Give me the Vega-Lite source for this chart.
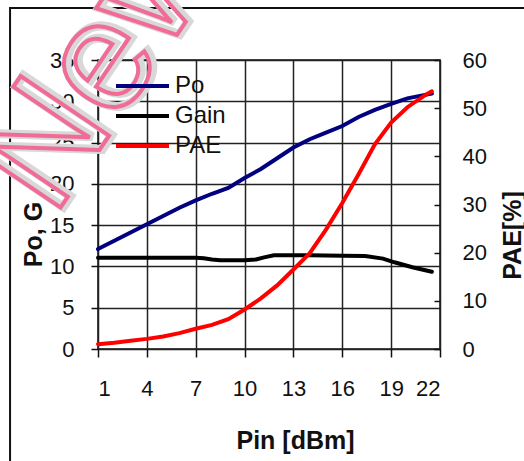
{
  "$schema": "https://vega.github.io/schema/vega-lite/v6.json",
  "width": 342,
  "height": 289,
  "autosize": {"type": "none"},
  "padding": {"left": 98, "top": 60, "right": 84, "bottom": 112},
  "background": "white",
  "config": {
    "font": "Liberation Sans",
    "view": {"stroke": "#111", "strokeWidth": 1.5},
    "axis": {
      "labelFont": "Liberation Sans",
      "titleFont": "Liberation Sans",
      "labelFontSize": 22,
      "titleFontSize": 25,
      "titleFontWeight": "bold",
      "labelColor": "#111",
      "titleColor": "#111",
      "tickColor": "#111",
      "tickWidth": 1.5,
      "gridColor": "#222",
      "gridWidth": 1.5,
      "gridOpacity": 1,
      "domain": false
    }
  },
  "datasets": {
    "curves": [
      {"Pin": 1, "series": "Po", "value": 12.1},
      {"Pin": 2, "series": "Po", "value": 13.1},
      {"Pin": 3, "series": "Po", "value": 14.1},
      {"Pin": 4, "series": "Po", "value": 15.1},
      {"Pin": 5, "series": "Po", "value": 16.1},
      {"Pin": 6, "series": "Po", "value": 17.1},
      {"Pin": 7, "series": "Po", "value": 18.0},
      {"Pin": 8, "series": "Po", "value": 18.8},
      {"Pin": 9, "series": "Po", "value": 19.5},
      {"Pin": 10, "series": "Po", "value": 20.7},
      {"Pin": 11, "series": "Po", "value": 21.8},
      {"Pin": 12, "series": "Po", "value": 23.1},
      {"Pin": 13, "series": "Po", "value": 24.4},
      {"Pin": 14, "series": "Po", "value": 25.4},
      {"Pin": 15, "series": "Po", "value": 26.2},
      {"Pin": 16, "series": "Po", "value": 27.0},
      {"Pin": 17, "series": "Po", "value": 28.1},
      {"Pin": 18, "series": "Po", "value": 28.95},
      {"Pin": 19, "series": "Po", "value": 29.7},
      {"Pin": 20, "series": "Po", "value": 30.35},
      {"Pin": 21, "series": "Po", "value": 30.75},
      {"Pin": 21.5, "series": "Po", "value": 30.95},
      {"Pin": 1, "series": "Gain", "value": 11.05},
      {"Pin": 4, "series": "Gain", "value": 11.05},
      {"Pin": 7, "series": "Gain", "value": 11.05},
      {"Pin": 7.5, "series": "Gain", "value": 11.0},
      {"Pin": 8, "series": "Gain", "value": 10.85},
      {"Pin": 8.5, "series": "Gain", "value": 10.75},
      {"Pin": 10, "series": "Gain", "value": 10.75},
      {"Pin": 10.7, "series": "Gain", "value": 10.85},
      {"Pin": 11.2, "series": "Gain", "value": 11.1},
      {"Pin": 11.8, "series": "Gain", "value": 11.35},
      {"Pin": 14, "series": "Gain", "value": 11.35},
      {"Pin": 16, "series": "Gain", "value": 11.3},
      {"Pin": 17.4, "series": "Gain", "value": 11.25},
      {"Pin": 18.5, "series": "Gain", "value": 10.95},
      {"Pin": 19.2, "series": "Gain", "value": 10.5},
      {"Pin": 20.3, "series": "Gain", "value": 9.9},
      {"Pin": 21.5, "series": "Gain", "value": 9.35},
      {"Pin": 1, "series": "PAE", "value": 1.0},
      {"Pin": 2, "series": "PAE", "value": 1.3},
      {"Pin": 3, "series": "PAE", "value": 1.7},
      {"Pin": 4, "series": "PAE", "value": 2.1},
      {"Pin": 5, "series": "PAE", "value": 2.6},
      {"Pin": 6, "series": "PAE", "value": 3.3},
      {"Pin": 7, "series": "PAE", "value": 4.2},
      {"Pin": 8, "series": "PAE", "value": 5.0},
      {"Pin": 9, "series": "PAE", "value": 6.2},
      {"Pin": 10, "series": "PAE", "value": 8.2},
      {"Pin": 11, "series": "PAE", "value": 10.5},
      {"Pin": 12, "series": "PAE", "value": 13.2},
      {"Pin": 13, "series": "PAE", "value": 16.5},
      {"Pin": 14, "series": "PAE", "value": 19.9},
      {"Pin": 15, "series": "PAE", "value": 24.8},
      {"Pin": 16, "series": "PAE", "value": 30.3},
      {"Pin": 17, "series": "PAE", "value": 36.3},
      {"Pin": 18, "series": "PAE", "value": 42.5},
      {"Pin": 19, "series": "PAE", "value": 47.0},
      {"Pin": 20, "series": "PAE", "value": 50.2},
      {"Pin": 21, "series": "PAE", "value": 52.5},
      {"Pin": 21.5, "series": "PAE", "value": 53.5}
    ],
    "frame": [{"x1": -4.4, "x2": 28, "y1": 41.3, "y2": -16}],
    "mark": [{"label": "New", "Pin": 1.2, "v": 34.6}]
  },
  "layer": [
    {
      "layer": [
        {
          "data": {"name": "frame"},
          "mark": {"type": "rect", "fill": null, "fillOpacity": 0, "stroke": "#111", "strokeWidth": 2, "clip": false},
          "encoding": {
            "x": {"field": "x1", "type": "quantitative", "scale": {"domain": [1, 22]}},
            "x2": {"field": "x2"},
            "y": {"field": "y1", "type": "quantitative", "scale": {"domain": [0, 35]}},
            "y2": {"field": "y2"}
          }
        },
        {
          "data": {"name": "curves"},
          "transform": [{"filter": "datum.series !== 'PAE'"}],
          "mark": {"type": "line", "strokeWidth": 4, "strokeCap": "round"},
          "encoding": {
            "x": {
              "field": "Pin", "type": "quantitative",
              "scale": {"domain": [1, 22], "nice": false, "zero": false},
              "axis": {
                "values": [1, 4, 7, 10, 13, 16, 19, 22],
                "grid": true, "tickSize": 8, "labelPadding": 21,
                "title": "Pin [dBm]", "titleX": 197, "titleY": 91,
                "titleAlign": "center", "titleBaseline": "middle"
              }
            },
            "y": {
              "field": "value", "type": "quantitative",
              "scale": {"domain": [0, 35], "nice": false},
              "axis": {
                "values": [0, 5, 10, 15, 20, 25, 30, 35],
                "grid": true, "tickSize": 7, "labelPadding": 17,
                "title": "Po, G", "titleAngle": 270, "titleX": -65, "titleY": 174,
                "titleAlign": "center", "titleBaseline": "middle"
              }
            },
            "color": {
              "field": "series", "type": "nominal",
              "scale": {"domain": ["Po", "Gain", "PAE"], "range": ["#000080", "#000000", "#ff0000"]},
              "legend": {
                "orient": "none", "legendX": 32.5, "legendY": 14, "title": null,
                "symbolType": "M-3,0H3", "symbolSize": 312, "symbolStrokeWidth": 4,
                "labelFontSize": 24, "labelFont": "Liberation Sans", "labelColor": "#111",
                "labelOffset": 20.5, "rowPadding": 6
              }
            },
            "order": {"field": "Pin", "type": "quantitative"}
          }
        },
        {
          "data": {"name": "mark"},
          "mark": {"type": "text", "angle": -56, "fontSize": 155, "font": "Liberation Sans", "fillOpacity": 0, "stroke": "#d8d8d8", "strokeWidth": 9, "dx": 2, "dy": 2, "align": "center", "baseline": "middle", "clip": false},
          "encoding": {
            "x": {"field": "Pin", "type": "quantitative"},
            "y": {"field": "v", "type": "quantitative"},
            "text": {"field": "label"}
          }
        },
        {
          "data": {"name": "mark"},
          "mark": {"type": "text", "angle": -56, "fontSize": 155, "font": "Liberation Sans", "fillOpacity": 0, "stroke": "#f06c96", "strokeWidth": 4, "align": "center", "baseline": "middle", "clip": false},
          "encoding": {
            "x": {"field": "Pin", "type": "quantitative"},
            "y": {"field": "v", "type": "quantitative"},
            "text": {"field": "label"}
          }
        }
      ]
    },
    {
      "data": {"name": "curves"},
      "transform": [{"filter": "datum.series === 'PAE'"}],
      "mark": {"type": "line", "strokeWidth": 4, "strokeCap": "round"},
      "encoding": {
        "x": {"field": "Pin", "type": "quantitative", "scale": {"domain": [1, 22], "nice": false, "zero": false}},
        "y": {
          "field": "value", "type": "quantitative",
          "scale": {"domain": [0, 60], "nice": false},
          "axis": {
            "orient": "right",
            "values": [0, 10, 20, 30, 40, 50, 60],
            "grid": false, "tickSize": -6, "labelPadding": 28, "labelAlign": "left",
            "title": "PAE[%]", "titleAngle": 270, "titleX": 72, "titleY": 175,
            "titleAlign": "center", "titleBaseline": "middle"
          }
        },
        "color": {
          "field": "series", "type": "nominal",
          "scale": {"domain": ["Po", "Gain", "PAE"], "range": ["#000080", "#000000", "#ff0000"]}
        },
        "order": {"field": "Pin", "type": "quantitative"}
      }
    }
  ],
  "resolve": {"scale": {"y": "independent"}}
}
